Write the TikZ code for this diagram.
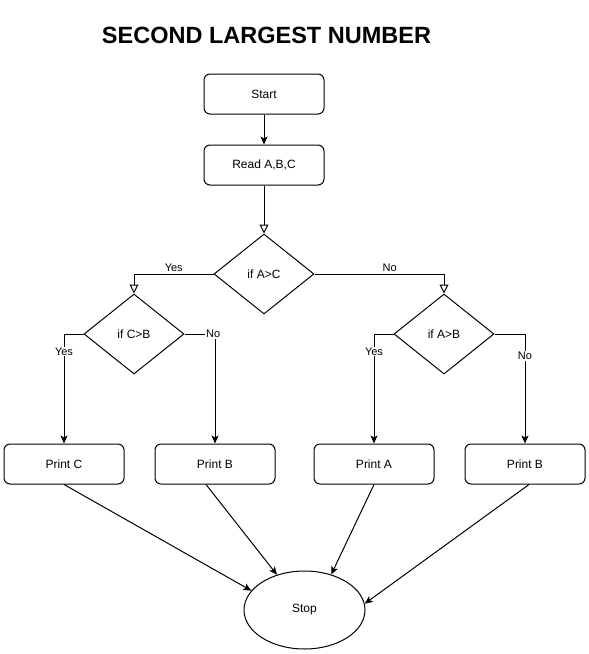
\documentclass[tikz,border=0pt]{standalone}
\usepackage{fontspec}
\setmainfont{Liberation Sans}
\usetikzlibrary{arrows.meta,positioning,shapes.geometric}

\tikzset{
    box/.style={draw, rounded corners=6pt, minimum width=120pt, minimum height=40pt,
        inner sep=0pt, font=\fontsize{12}{14}\selectfont},
    decision/.style={draw, diamond, minimum width=100pt, minimum height=80pt,
        inner sep=0pt, font=\fontsize{12}{14}\selectfont},
    terminal/.style={draw, ellipse, minimum width=121pt, minimum height=78pt,
        inner sep=0pt, font=\fontsize{12}{14}\selectfont},
    flow/.style={-{Stealth[length=8pt,width=7pt,inset=2pt]}},
    openflow/.style={-{Triangle[open,length=9pt,width=9pt]}},
    lbl/.style={fill=white, inner sep=1pt, font=\fontsize{11}{13}\selectfont},
}

\begin{document}
\begin{tikzpicture}[x=1pt, y=1pt, line width=1pt]

    \useasboundingbox (0,0) rectangle (589,-654);

    \node[font=\fontsize{23.5}{28}\selectfont\bfseries] (title) at (266.5,-35) {SECOND LARGEST NUMBER};

    \node[box] (start) at (264,-94) {Start};
    \node[box, below=30pt of start] (read) {Read A,B,C};

    \node[decision] (ifac) at (264,-274) {if A>C};
    \node[decision] (ifcb) at (134,-334) {if C>B};
    \node[decision] (ifab) at (444,-334) {if A>B};

    \node[box] (printc) at (64,-464) {Print C};
    \node[box, right=30pt of printc] (printb) {Print B};
    \node[box] (printa) at (374,-464) {Print A};
    \node[box, right=30pt of printa] (printbb) {Print B};

    \node[terminal] (stop) at (304.5,-610) {Stop};

    \draw[flow] (start) -- (read);
    \draw[openflow] (read) -- (ifac);

    % first test
    \draw[openflow] (ifac.west) -| (ifcb.north)
        node[pos=0.25, above, inner sep=2pt, font=\fontsize{11}{13}\selectfont] {Yes};
    \draw[openflow] (ifac.east) -| (ifab.north)
        node[pos=0.29, above, inner sep=2pt, font=\fontsize{11}{13}\selectfont] {No};

    % second tests
    \draw[flow] (ifcb.west) -| (printc.north) node[lbl, pos=0.58] {Yes};
    \draw[flow] (ifcb.east) -| (printb.north) node[lbl, pos=0.47] {No};
    \draw[flow] (ifab.west) -| (printa.north) node[lbl, pos=0.58] {Yes};
    \draw[flow] (ifab.east) -| (printbb.north) node[lbl, pos=0.6] {No};

    % all to stop
    \draw[flow] (printc.south) -- (stop.160);
    \draw[flow] ([xshift=-9pt]printb.south) -- (stop.128);
    \draw[flow] (printa.south) -- (stop.53);
    \draw[flow] ([xshift=4pt]printbb.south) -- (stop.6);

\end{tikzpicture}
\end{document}
